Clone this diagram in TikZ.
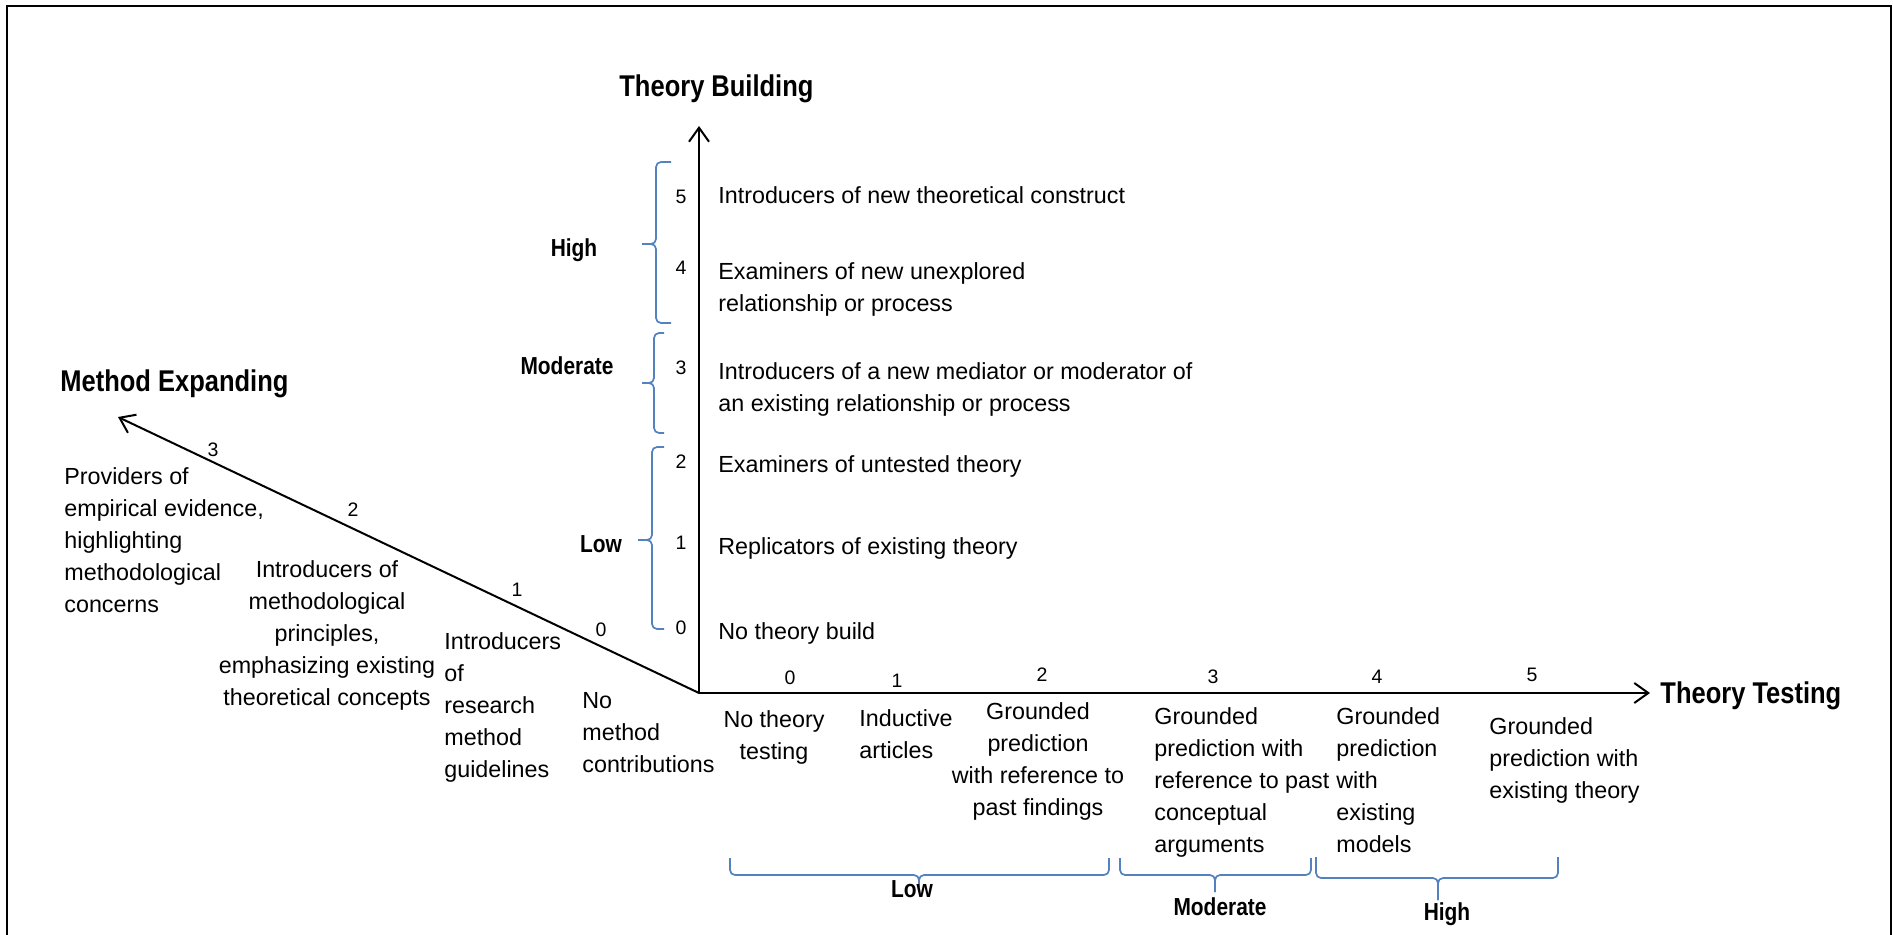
\documentclass[tikz,border=0pt]{standalone}
\usepackage{fontspec}
\setmainfont{Liberation Sans}
\newfontfamily\condfont{Liberation Sans}[FakeStretch=0.85]
\usetikzlibrary{arrows.meta}
\definecolor{braceblue}{RGB}{84,130,190}
\begin{document}
\begin{tikzpicture}[x=0.5pt,y=-0.5pt,
  axis/.style={line width=1pt, -{Straight Barb[length=7pt,width=10pt]}},
  txt/.style={font=\fontsize{11.65}{16}\selectfont, inner sep=0pt, align=left, anchor=north west},
  ctxt/.style={font=\fontsize{11.65}{16}\selectfont, inner sep=0pt, align=center, anchor=north},
  num/.style={font=\fontsize{9.75}{12}\selectfont, inner sep=0pt},
  ttl/.style={font=\condfont\bfseries\fontsize{15}{18}\selectfont, inner sep=0pt, anchor=base west},
  lvl/.style={font=\condfont\bfseries\fontsize{12.3}{15}\selectfont, inner sep=0pt, anchor=base},
  brc/.style={draw=braceblue, line width=0.85pt, rounded corners=2.5pt},
]
\useasboundingbox (0,0) rectangle (1893,935);
% frame
\draw[line width=1pt] (7,935) -- (7,6) -- (1891,6) -- (1891,935);

% axes
\coordinate (O) at (699,693);
\coordinate (TB) at (699,126);
\coordinate (TT) at (1650,693);
\coordinate (ME) at (118,417);
\draw[axis] (O) -- (TB);
\draw[axis] (O) -- (TT);
\draw[axis] (O) -- (ME);

% axis titles
\node[ttl] (tbuild) at (619,97) {Theory Building};
\node[ttl] (ttest) at (1660,703) {Theory Testing};
\node[ttl] (mexp) at (60,391) {Method Expanding};

% vertical axis numbers
\node[num] (v5) at (681,197) {5};
\node[num] (v4) at (681,268) {4};
\node[num] (v3) at (681,368) {3};
\node[num] (v2) at (681,462) {2};
\node[num] (v1) at (681,543) {1};
\node[num] (v0) at (681,628) {0};

% vertical axis texts
\node[txt] (t5) at (718,186) {Introducers of new theoretical construct};
\node[txt] (t4) at (718,262) {Examiners of new unexplored\\relationship or process};
\node[txt] (t3) at (718,362) {Introducers of a new mediator or moderator of\\an existing relationship or process};
\node[txt] (t2) at (718,455) {Examiners of untested theory};
\node[txt] (t1) at (718,537) {Replicators of existing theory};
\node[txt] (t0) at (718,622) {No theory build};

% vertical braces
\draw[brc] (671,162) -- (656,162) -- (656,244) -- (642,244);
\draw[brc] (671,323) -- (656,323) -- (656,244) -- (642,244);
\draw[brc] (664,333) -- (654,333) -- (654,383) -- (642,383);
\draw[brc] (664,433) -- (654,433) -- (654,383) -- (642,383);
\draw[brc] (664,447) -- (652,447) -- (652,540) -- (638,540);
\draw[brc] (664,629) -- (652,629) -- (652,540) -- (638,540);
\node[lvl] (vhigh) at (574,257) {High};
\node[lvl] (vmod) at (567,374) {Moderate};
\node[lvl] (vlow) at (601,552) {Low};

% diagonal axis numbers
\node[num] (d3) at (213,450) {3};
\node[num] (d2) at (353,510) {2};
\node[num] (d1) at (517,590) {1};
\node[num] (d0) at (601,630) {0};

% diagonal texts
\node[txt] (m3) at (64,467) {Providers of\\empirical evidence,\\highlighting\\methodological\\concerns};
\node[ctxt] (m2) at (327,560) {Introducers of\\methodological\\principles,\\emphasizing existing\\theoretical concepts};
\node[txt] (m1) at (444,632) {Introducers\\of\\research\\method\\guidelines};
\node[txt] (m0) at (582,692) {No\\method\\contributions};

% horizontal axis numbers
\node[num] (h0) at (790,678) {0};
\node[num] (h1) at (897,681) {1};
\node[num] (h2) at (1042,675) {2};
\node[num] (h3) at (1213,677) {3};
\node[num] (h4) at (1377,677) {4};
\node[num] (h5) at (1532,675) {5};

% horizontal texts
\node[ctxt] (x0) at (774,710) {No theory\\testing};
\node[txt] (x1) at (859,709) {Inductive\\articles};
\node[ctxt] (x2) at (1038,702) {Grounded\\prediction\\with reference to\\past findings};
\node[txt] (x3) at (1154,707) {Grounded\\prediction with\\reference to past\\conceptual\\arguments};
\node[txt] (x4) at (1336,707) {Grounded\\prediction\\with\\existing\\models};
\node[txt] (x5) at (1489,717) {Grounded\\prediction with\\existing theory};

% horizontal braces
\draw[brc] (730,858) -- (730,875) -- (919,875) -- (919,887);
\draw[brc] (1109,858) -- (1109,875) -- (919,875) -- (919,887);
\draw[brc] (1120,858) -- (1120,875) -- (1215,875) -- (1215,892);
\draw[brc] (1311,858) -- (1311,875) -- (1215,875) -- (1215,892);
\draw[brc] (1316,857) -- (1316,878) -- (1438,878) -- (1438,900);
\draw[brc] (1558,857) -- (1558,878) -- (1438,878) -- (1438,900);
\node[lvl] (hlow) at (912,897) {Low};
\node[lvl] (hmod) at (1220,915) {Moderate};
\node[lvl] (hhigh) at (1447,920) {High};
\end{tikzpicture}
\end{document}
